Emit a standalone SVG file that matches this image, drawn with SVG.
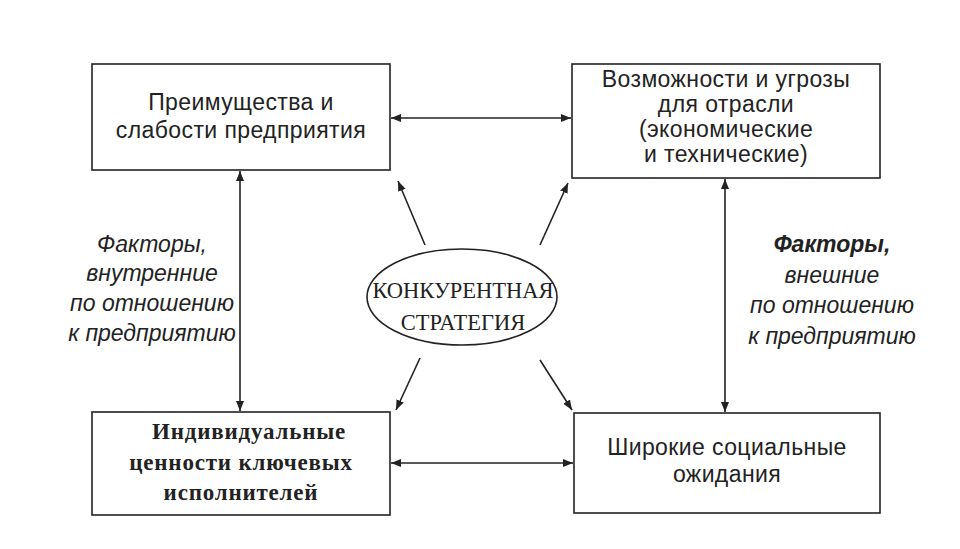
<svg xmlns="http://www.w3.org/2000/svg" width="960" height="549" viewBox="0 0 960 549">
<style>
.box{fill:#fff;stroke:#222;stroke-width:1.6}
.t{font-family:"Liberation Sans",Arial,sans-serif;font-size:23px;fill:#222;text-anchor:middle;letter-spacing:0.4px}
.s{font-family:"Liberation Serif","Times New Roman",serif;font-size:23px;font-weight:bold;fill:#222;text-anchor:middle;letter-spacing:0.8px}
.e{font-family:"Liberation Serif","Times New Roman",serif;font-size:22.5px;fill:#222;text-anchor:middle}
.i{font-family:"Liberation Sans",Arial,sans-serif;font-size:23px;font-style:italic;fill:#222;text-anchor:middle}
.c{stroke:#222;stroke-width:1.6;fill:none}
</style>
<defs>
<marker id="a" viewBox="0 0 10 10" refX="10" refY="5" markerWidth="10" markerHeight="10" orient="auto-start-reverse" markerUnits="userSpaceOnUse"><path d="M0,1 L10,5 L0,9 z" fill="#222"/></marker>
</defs>
<rect width="960" height="549" fill="#fff"/>
<g id="connectors">
<line class="c" x1="391" y1="118" x2="571" y2="118" marker-start="url(#a)" marker-end="url(#a)"/>
<line class="c" x1="391" y1="463" x2="573" y2="463" marker-start="url(#a)" marker-end="url(#a)"/>
<line class="c" x1="240" y1="171" x2="240" y2="411" marker-start="url(#a)" marker-end="url(#a)"/>
<line class="c" x1="725" y1="179" x2="725" y2="412" marker-start="url(#a)" marker-end="url(#a)"/>
<line class="c" x1="425" y1="245" x2="398" y2="181" marker-end="url(#a)"/>
<line class="c" x1="540" y1="245" x2="568" y2="183" marker-end="url(#a)"/>
<line class="c" x1="420" y1="358" x2="396" y2="410" marker-end="url(#a)"/>
<line class="c" x1="540" y1="360" x2="572" y2="410" marker-end="url(#a)"/>
</g>
<g id="tl"><rect class="box" x="92" y="64" width="298" height="106"/>
<text class="t" x="241" y="110">Преимущества и</text><text class="t" x="241" y="138">слабости предприятия</text></g>
<g id="tr"><rect class="box" x="572" y="64" width="308" height="114"/>
<text class="t" x="726" y="87">Возможности и угрозы</text><text class="t" x="726" y="112">для отрасли</text><text class="t" x="726" y="137">(экономические</text><text class="t" x="726" y="162">и технические)</text></g>
<g id="bl"><rect class="box" x="92" y="412" width="298" height="103"/>
<text class="s" x="249" y="439">Индивидуальные</text><text class="s" x="241" y="470">ценности ключевых</text><text class="s" x="241" y="500">исполнителей</text></g>
<g id="br"><rect class="box" x="574" y="413" width="306" height="100"/>
<text class="t" x="727" y="455">Широкие социальные</text><text class="t" x="727" y="482">ожидания</text></g>
<g id="center"><ellipse cx="462" cy="297" rx="95" ry="48" fill="#fff" stroke="#222" stroke-width="1.6"/>
<text class="e" x="463" y="298">КОНКУРЕНТНАЯ</text><text class="e" x="463" y="330">СТРАТЕГИЯ</text></g>
<g id="left-label"><text class="i" x="152" y="252">Факторы,</text><text class="i" x="152" y="281">внутренние</text><text class="i" x="152" y="311">по отношению</text><text class="i" x="152" y="341">к предприятию</text></g>
<g id="right-label"><text class="i" x="832" y="252" font-weight="bold">Факторы,</text><text class="i" x="832" y="283">внешние</text><text class="i" x="832" y="313">по отношению</text><text class="i" x="832" y="344">к предприятию</text></g>
</svg>
